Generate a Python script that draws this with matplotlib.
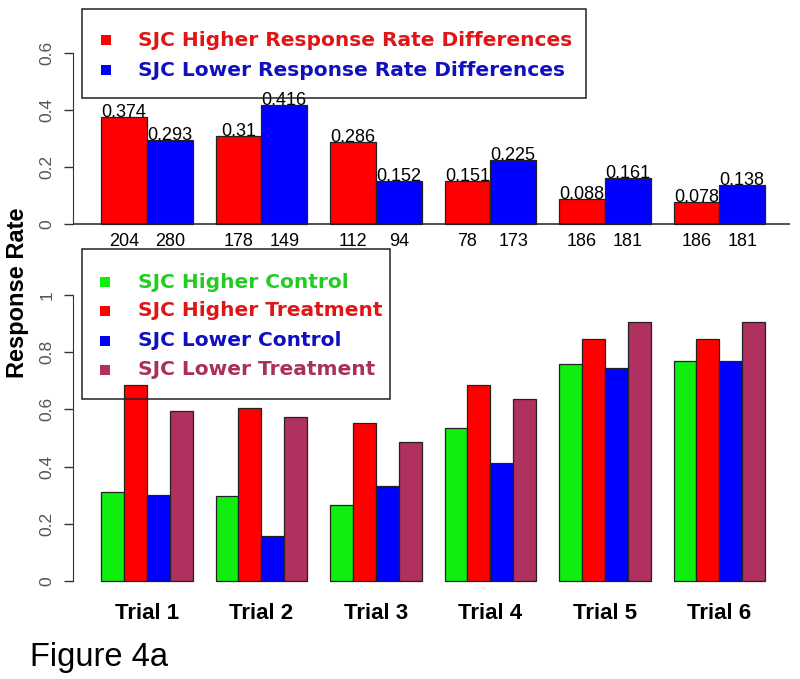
import matplotlib
matplotlib.use("Agg")
import matplotlib.pyplot as plt
from matplotlib.patches import Rectangle

# --- data ---
trials = ["Trial 1", "Trial 2", "Trial 3", "Trial 4", "Trial 5", "Trial 6"]

# top panel: treatment - control differences
diff_higher = [0.374, 0.31, 0.286, 0.151, 0.088, 0.078]
diff_lower = [0.293, 0.416, 0.152, 0.225, 0.161, 0.138]
n_higher = [204, 178, 112, 78, 186, 186]
n_lower = [280, 149, 94, 173, 181, 181]

# bottom panel: response rates
higher_control = [0.312, 0.298, 0.267, 0.536, 0.759, 0.769]
higher_treatment = [0.686, 0.606, 0.553, 0.687, 0.847, 0.847]
lower_control = [0.300, 0.157, 0.332, 0.412, 0.746, 0.769]
lower_treatment = [0.594, 0.572, 0.485, 0.638, 0.906, 0.906]

top_labels = ["SJC Higher Response Rate Differences", "SJC Lower Response Rate Differences"]
bottom_labels = ["SJC Higher Control", "SJC Higher Treatment", "SJC Lower Control", "SJC Lower Treatment"]

GREEN, RED, BLUE, MAROON = "#10ee10", "#ff0000", "#0000ff", "#b03060"
TXT_COLORS = {GREEN: "#22cc22", RED: "#e01515", BLUE: "#1010c0", MAROON: "#a8305a"}

W, H = 800, 679


def px_box(left, top, right, bottom):
    # pixel box (from top-left) -> figure fraction [l, b, w, h]
    return [left / W, 1 - bottom / H, (right - left) / W, (bottom - top) / H]


def style_axis(ax, ymax, ticks):
    for side in ["top", "right", "bottom"]:
        ax.spines[side].set_visible(False)
    ax.spines["left"].set_bounds(0, ymax)
    ax.spines["left"].set_color("#333333")
    ax.set_xticks([])
    ax.set_yticks(ticks)
    ax.set_yticklabels(["0" if t == 0 else f"{t:g}" for t in ticks], rotation=90, va="center",
                       family="Liberation Sans", fontsize=12.5, color="#555555")
    ax.tick_params(axis="y", length=6.5, width=1, color="#333333", pad=7)
    ax.set_facecolor("none")


def draw_legend(box, entries, text_x=138, square_x=106):
    left, top, right, bottom = box
    fig.patches.append(Rectangle((left / W, 1 - bottom / H), (right - left) / W, (bottom - top) / H,
                                 transform=fig.transFigure, fill=False, edgecolor="#222222", lw=1.1))
    for label, color, ypx in entries:
        fig.patches.append(Rectangle(((square_x - 5) / W, 1 - (ypx + 5) / H), 10 / W, 10 / H,
                                     transform=fig.transFigure, facecolor=color, edgecolor="none"))
        fig.text(text_x / W, 1 - ypx / H, label, color=TXT_COLORS[color], fontsize=14.5,
                 fontweight="bold", family="DejaVu Sans", va="center", ha="left")


fig = plt.figure(figsize=(W / 100, H / 100), dpi=100)

# x units: bottom bar width = 1, groups of 4 bars + 1 space
group_start = [1 + 5 * i for i in range(len(trials))]
xlim = (-0.223, 31.087)

# ---------- top panel ----------
ax_top = fig.add_axes(px_box(73, 9, 790, 232))
ax_top.set_xlim(*xlim)
ax_top.set_ylim(-(232 - 224) / 285, (224 - 9) / 285)
ax_top.bar(group_start, diff_higher, width=2, align="edge", color=RED, edgecolor="#222222", lw=0.9)
ax_top.bar([g + 2 for g in group_start], diff_lower, width=2, align="edge", color=BLUE,
           edgecolor="#222222", lw=0.9)
ax_top.axhline(0, color="#222222", lw=1.1)
for g, dh, dl, nh, nl in zip(group_start, diff_higher, diff_lower, n_higher, n_lower):
    ax_top.text(g + 1, dh, str(dh), ha="center", va="baseline", fontsize=13, family="Liberation Sans")
    ax_top.text(g + 3, dl, str(dl), ha="center", va="baseline", fontsize=13, family="Liberation Sans")
    ax_top.text(g + 1, -0.06, str(nh), ha="center", va="center", fontsize=13, family="Liberation Sans")
    ax_top.text(g + 3, -0.06, str(nl), ha="center", va="center", fontsize=13, family="Liberation Sans")
style_axis(ax_top, 0.6, [0, 0.2, 0.4, 0.6])

# ---------- bottom panel ----------
ax_bot = fig.add_axes(px_box(73, 250, 790, 590))
ax_bot.set_xlim(*xlim)
ax_bot.set_ylim(-(590 - 581) / 286, (581 - 250) / 286)
series = [higher_control, higher_treatment, lower_control, lower_treatment]
colors = [GREEN, RED, BLUE, MAROON]
for j, (vals, c) in enumerate(zip(series, colors)):
    ax_bot.bar([g + j for g in group_start], vals, width=1, align="edge", color=c,
               edgecolor="#222222", lw=0.9)
for g, t in zip(group_start, trials):
    ax_bot.text(g + 2, -0.115, t, ha="center", va="center", fontsize=16, fontweight="bold",
                family="Liberation Sans")
style_axis(ax_bot, 1.0, [0, 0.2, 0.4, 0.6, 0.8, 1.0])

# ---------- legends ----------
draw_legend((82, 9, 586, 98), [(top_labels[0], RED, 40), (top_labels[1], BLUE, 70)])
draw_legend((82, 249, 390, 399), [(bottom_labels[0], GREEN, 282), (bottom_labels[1], RED, 311),
                                  (bottom_labels[2], BLUE, 341), (bottom_labels[3], MAROON, 370)],
            square_x=105)

fig.text(18 / W, 1 - 293 / H, "Response Rate", rotation=90, ha="center", va="center",
         fontsize=17, fontweight="bold", family="Liberation Sans")
fig.text(30 / W, 1 - 666 / H, "Figure 4a", ha="left", va="baseline", fontsize=23.5,
         family="Liberation Sans")

fig.savefig("out.png", dpi=100, facecolor="white")
